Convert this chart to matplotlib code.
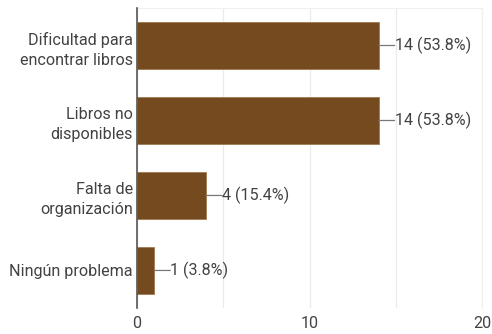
import matplotlib.pyplot as plt

categorias = ['Dificultad para\nencontrar libros', 'Libros no\ndisponibles',
              'Falta de\norganización', 'Ningún problema']
respuestas = [14, 14, 4, 1]
porcentajes = [53.8, 53.8, 15.4, 3.8]
ticks_x = [0, 10, 20]

plt.rcParams['font.family'] = ['Roboto', 'DejaVu Sans']
fs = 11.6

fig = plt.figure(figsize=(4.92, 3.34), dpi=100)
ax = fig.add_axes([0.2785, 0.078, 0.7015, 0.898])

pos = list(range(len(categorias)))
ax.barh(pos, respuestas, height=0.62, color='#744a1e', edgecolor='#a07a50',
        linewidth=0.6, zorder=3)

# leader line plus value label next to each bar
for i, (v, p) in enumerate(zip(respuestas, porcentajes)):
    ax.annotate('', xy=(v, i), xytext=(16, 0), textcoords='offset pixels',
                arrowprops=dict(arrowstyle='-', color='#777777', lw=0.9,
                                shrinkA=0, shrinkB=0))
    ax.annotate(f'{v} ({p}%)', xy=(v, i), xytext=(16, 0),
                textcoords='offset pixels', ha='left', va='center',
                fontsize=fs, color='#424242')

ax.set_xlim(0, 20)
ax.set_ylim(3.5, -0.5)
ax.set_xticks(ticks_x)
ax.set_xticks([5, 15], minor=True)
ax.set_yticks(pos)
ax.set_yticklabels(categorias, fontsize=fs, color='#424242', linespacing=1.45)
ax.tick_params(axis='y', length=0, pad=3)
ax.tick_params(axis='x', which='both', length=0, labelsize=fs,
               labelcolor='#424242', pad=6)
ax.grid(axis='x', which='both', color='#ebebeb', lw=0.9, zorder=0)

for s in ['top', 'right']:
    ax.spines[s].set_color('#f0f0f0')
ax.spines['bottom'].set_visible(False)
ax.spines['left'].set_color('#555555')
ax.spines['left'].set_linewidth(1.2)
ax.spines['left'].set_zorder(4)

fig.savefig('out.png', dpi=100)
